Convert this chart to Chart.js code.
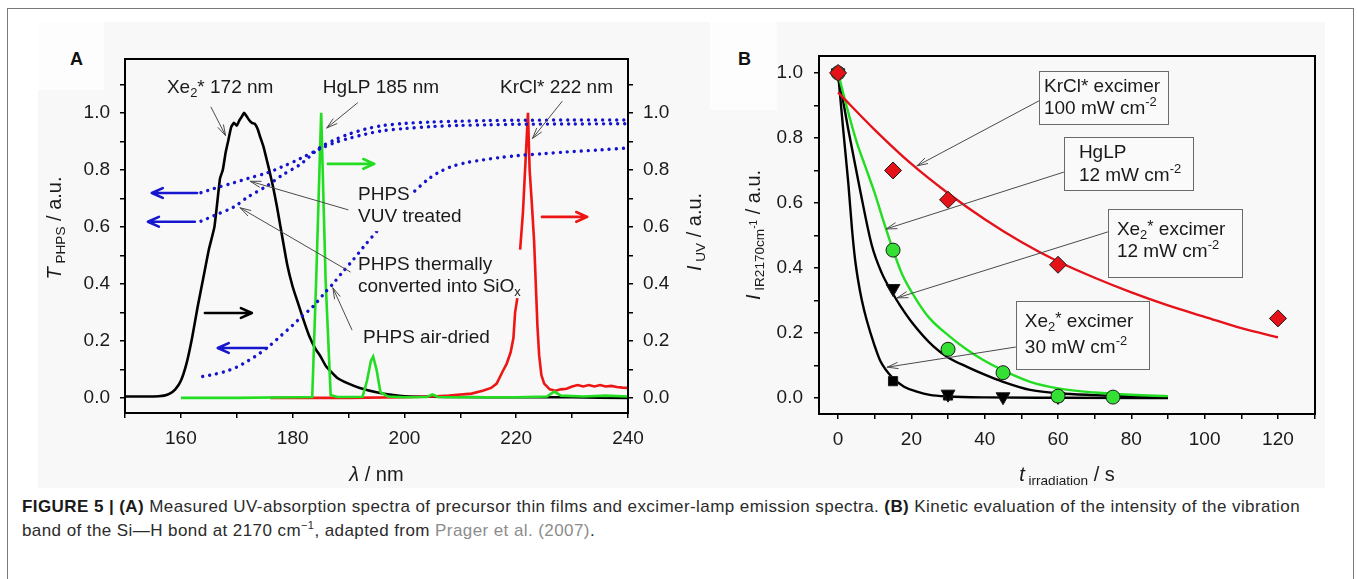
<!DOCTYPE html>
<html>
<head>
<meta charset="utf-8">
<script src="https://cdn.jsdelivr.net/npm/chart.js@4.4.1/dist/chart.umd.min.js"></script>
<style>
  html, body { margin: 0; padding: 0; background: #fff; }
  body { width: 1357px; height: 579px; position: relative; overflow: hidden; font-family: "Liberation Sans", Arial, sans-serif; }
  #frame { position: absolute; left: 7px; top: 8px; width: 1347px; height: 620px; border: 1.5px solid #7a7a7a; box-sizing: border-box; }
  #figure { position: absolute; left: 38px; top: 22px; width: 1287px; height: 466px; background: #f8f8f8; }
  .patch { position: absolute; background: #fdfdfd; }
  .panel { position: absolute; font-weight: bold; font-size: 18px; color: #111; line-height: 1; }
  canvas { position: absolute; }
  #caption { position: absolute; left: 22px; top: 495px; font-size: 17px; letter-spacing: 0.42px; line-height: 24px; color: #2b2b2b; white-space: nowrap; }
  #caption b { color: #1a1a1a; }
  #caption .ref { color: #8c8c8c; }
  #caption sup { font-size: 11px; line-height: 0; }
</style>
</head>
<body>
<div id="frame"></div>
<div id="figure"></div>
<div class="patch" style="left:38px;top:22px;width:66px;height:68px;"></div>
<div class="patch" style="left:710px;top:22px;width:67px;height:88px;"></div>
<div class="panel" style="left:70px;top:50px;">A</div>
<div class="panel" style="left:738px;top:50px;">B</div>
<canvas id="spectra" width="682" height="466" style="left:38px;top:22px;"></canvas>
<canvas id="kinetics" width="605" height="466" style="left:720px;top:22px;"></canvas>
<div id="caption"><b>FIGURE 5 | (A)</b> Measured UV-absorption spectra of precursor thin films and excimer-lamp emission spectra. <b>(B)</b> Kinetic evaluation of the intensity of the vibration<br>band of the Si—H bond at 2170 cm<sup>−1</sup>, adapted from <span class="ref">Prager et al. (2007)</span>.</div>

<script>
// Painel A: espectros (nm) e Painel B: cinética (s)

// ---- Painel A: emissão das lâmpadas ----
const xeWavelength = [150, 152, 154, 156, 157, 158, 159, 160, 161, 162, 163, 164, 165, 166, 167, 167.5, 168, 168.5, 169, 169.5, 170, 170.5, 171, 171.3, 171.7, 172.2, 172.7, 173.2, 173.7, 174.2, 174.8, 175.3, 175.8, 176.5, 177.2, 178, 179, 180, 181, 182, 183, 184, 185, 186, 188, 190, 192, 195, 198, 200, 205, 210, 220, 230, 240];
const xeIntensity = [0.005, 0.005, 0.005, 0.006, 0.008, 0.015, 0.03, 0.06, 0.12, 0.21, 0.32, 0.42, 0.52, 0.60, 0.77, 0.80, 0.86, 0.905, 0.95, 0.965, 0.955, 0.975, 0.99, 1.0, 0.99, 0.975, 0.965, 0.962, 0.945, 0.915, 0.88, 0.84, 0.80, 0.74, 0.67, 0.58, 0.47, 0.39, 0.33, 0.27, 0.215, 0.175, 0.145, 0.11, 0.07, 0.05, 0.035, 0.02, 0.01, 0.006, 0.004, 0.003, 0.002, 0.002, 0.0];

const hgWavelength = [160, 170, 180, 183.5, 184.2, 185.1, 185.9, 186.8, 188, 192.5, 193.3, 194, 194.4, 195, 195.7, 197, 200, 204, 205, 206, 210, 220, 225.5, 226.8, 228, 232, 236, 240];
const hgIntensity = [0, 0, 0.002, 0.003, 0.41, 1.0, 0.41, 0.01, 0.003, 0.004, 0.06, 0.13, 0.145, 0.10, 0.02, 0.005, 0.002, 0.003, 0.012, 0.003, 0.002, 0.002, 0.005, 0.022, 0.008, 0.005, 0.008, 0.005];

const krWavelength = [176, 190, 200, 205, 208, 210, 212, 214, 215.5, 216.5, 217.5, 218.3, 219, 219.5, 219.8, 220.2, 220.4, 220.7, 221.2, 222.1, 222.4, 222.8, 223.2, 223.5, 223.8, 224.1, 224.5, 225, 226, 227, 228, 229, 230, 231, 232, 233, 234, 235, 236, 237, 238, 239, 240];
const krIntensity = [0, 0, 0.002, 0.005, 0.008, 0.012, 0.015, 0.025, 0.035, 0.05, 0.09, 0.12, 0.16, 0.21, 0.30, 0.35, null, 0.52, 0.65, 1.0, 0.80, 0.68, 0.55, 0.40, 0.25, 0.15, 0.08, 0.05, 0.03, 0.025, 0.03, 0.032, 0.04, 0.045, 0.04, 0.045, 0.04, 0.045, 0.04, 0.042, 0.038, 0.036, 0.035];

// ---- Painel A: transmissão dos filmes PHPS ----
const filmWavelength = [163.6, 166, 169.5, 172, 175.5, 178, 181.4, 185, 187.5, 190, 193, 196, 200, 205, 210, 215, 220, 230, 240];
const vuvTransmission = [0.72, 0.735, 0.755, 0.77, 0.79, 0.81, 0.84, 0.875, 0.895, 0.91, 0.925, 0.937, 0.945, 0.952, 0.956, 0.958, 0.96, 0.961, 0.962];
const thermalTransmission = [0.62, 0.64, 0.67, 0.705, 0.745, 0.78, 0.82, 0.88, 0.905, 0.925, 0.943, 0.955, 0.963, 0.968, 0.971, 0.973, 0.974, 0.975, 0.975];
const airWavelength = [163.9, 166, 168, 170, 172, 174, 176, 178, 180, 181.6, 183.6, 185.8, 187.2, 189, 190.8, 192.7, 195.3, 198, 201, 204.1, 206, 208.2, 211, 214.1, 217, 220.2, 225, 229, 235, 240];
const airTransmission = [0.075, 0.083, 0.093, 0.108, 0.13, 0.155, 0.185, 0.22, 0.255, 0.285, 0.32, 0.37, 0.40, 0.443, 0.484, 0.53, 0.59, 0.65, 0.71, 0.765, 0.79, 0.81, 0.825, 0.835, 0.843, 0.85, 0.857, 0.863, 0.87, 0.877];

// ---- Painel B: pontos medidos ----
const krclTime = [0, 15, 30, 60, 120];
const krclSignal = [1.0, 0.70, 0.61, 0.41, 0.245];
const hglpTime = [0, 15, 30, 45, 60, 75];
const hglpSignal = [1.0, 0.455, 0.15, 0.078, 0.006, 0.003];
const xe12Time = [0, 15, 30, 45, 60];
const xe12Signal = [1.0, 0.337, 0.012, 0.004, 0.005];
const xe30Time = [0, 15, 30, 60];
const xe30Signal = [1.0, 0.052, 0.008, 0.003];

// ---- Painel B: curvas de ajuste ----
const krclFitTime = [0, 10, 20, 30, 40, 50, 60, 70, 80, 90, 100, 110, 120];
const krclFitSignal = [0.94, 0.825, 0.72, 0.63, 0.55, 0.48, 0.42, 0.37, 0.325, 0.285, 0.25, 0.215, 0.187];
const hglpFitTime = [0, 2.5, 5, 7.5, 10, 12.5, 15, 17.5, 21.5, 25, 30.5, 35, 39.6, 45, 52.4, 60, 70, 80, 90];
const hglpFitSignal = [1.0, 0.89, 0.79, 0.71, 0.63, 0.54, 0.455, 0.38, 0.30, 0.245, 0.189, 0.15, 0.117, 0.085, 0.05, 0.03, 0.017, 0.01, 0.006];
const xe12FitTime = [0, 2.8, 6, 9.2, 11.9, 15, 16.9, 20, 26.1, 30, 35.2, 40, 45, 52.4, 60, 70, 80, 90];
const xe12FitSignal = [1.0, 0.825, 0.64, 0.47, 0.385, 0.32, 0.285, 0.235, 0.158, 0.125, 0.096, 0.072, 0.05, 0.025, 0.015, 0.009, 0.005, 0.003];
const xe30FitTime = [0, 1.45, 2.8, 3.8, 4.6, 5.5, 6.5, 7.8, 10, 11.5, 14.9, 18, 21.5, 25, 30, 40, 60, 90];
const xe30FitSignal = [1.0, 0.82, 0.66, 0.52, 0.43, 0.36, 0.30, 0.24, 0.16, 0.115, 0.062, 0.035, 0.02, 0.01, 0.005, 0.002, 0.001, 0.0];

// rótulos dos eixos
const spectraTickStep = 10;
const kineticsTickStep = 10;

// ---- anotações (em coordenadas dos dados) ----
const spectraLabels = [
    { x: 157.5, y: 1.088, parts: [['Xe'], ['2', 'sub'], ['* 172 nm']] },
    { x: 185.4, y: 1.088, parts: [['HgLP 185 nm']] },
    { x: 217.1, y: 1.088, parts: [['KrCl* 222 nm']] },
    { x: 191.7, y: 0.712, parts: [['PHPS']], mask: true },
    { x: 191.7, y: 0.635, parts: [['VUV treated']], mask: true },
    { x: 191.7, y: 0.467, parts: [['PHPS thermally']] },
    { x: 191.7, y: 0.389, parts: [['converted into SiO'], ['x', 'sub']] },
    { x: 192.6, y: 0.21, parts: [['PHPS air-dried']] }
];
const spectraPointers = [
    [165.4, 1.02, 168.0, 0.92],
    [191.6, 1.035, 186.1, 0.947],
    [228.2, 1.04, 222.9, 0.91],
    [189.9, 0.66, 172.4, 0.76],
    [190.3, 0.442, 170.6, 0.667],
    [190.6, 0.239, 187.2, 0.386]
];
const spectraArrows = [
    { from: [162.9, 0.719], to: [154.8, 0.719], color: '#1616cf' },
    { from: [162.5, 0.618], to: [154.1, 0.618], color: '#1616cf' },
    { from: [175.4, 0.175], to: [166.6, 0.175], color: '#1616cf' },
    { from: [164.3, 0.298], to: [172.7, 0.298], color: '#000000' },
    { from: [186.3, 0.821], to: [194.6, 0.821], color: '#22dd22' },
    { from: [224.6, 0.635], to: [232.7, 0.635], color: '#ee1515' }
];
const kineticsBoxes = [
    { x1: 54.8, y1: 1.006, x2: 90.0, y2: 0.843, pad: 5, dy: [16, 38], lines: [[['KrCl* excimer']], [['100 mW cm'], ['-2', 'sup']]] },
    { x1: 61.6, y1: 0.803, x2: 96.8, y2: 0.64, pad: 15, dy: [16, 39], lines: [[['HgLP']], [['12 mW cm'], ['-2', 'sup']]] },
    { x1: 73.6, y1: 0.582, x2: 110.2, y2: 0.372, pad: 9, dy: [21, 43], lines: [[['Xe'], ['2', 'sub'], ['*', 'star'], [' excimer']], [['12 mW cm'], ['-2', 'sup']]] },
    { x1: 48.5, y1: 0.298, x2: 84.8, y2: 0.089, pad: 9, dy: [21, 47], lines: [[['Xe'], ['2', 'sub'], ['*', 'star'], [' excimer']], [['30 mW cm'], ['-2', 'sup']]] }
];
const kineticsPointers = [
    [54.8, 0.914, 21.5, 0.714],
    [61.6, 0.695, 13.1, 0.52],
    [73.6, 0.511, 16.1, 0.308],
    [48.5, 0.157, 13.4, 0.095]
];

const FONT_FAMILY = '"Liberation Sans", Arial, Helvetica, sans-serif';
const BG = '#f8f8f8';
Chart.defaults.font.family = FONT_FAMILY;
Chart.defaults.color = '#1a1a1a';

function pontos(xs, ys) {
    return xs.map((x, i) => ({ x: x, y: ys[i] }));
}

// texto com índices e expoentes
function textoRico(ctx, parts, x, y, size, align, angle, mask) {
    ctx.save();
    ctx.translate(x, y);
    if (angle) ctx.rotate(angle);
    ctx.textBaseline = 'middle';
    ctx.textAlign = 'left';
    const runs = parts.map(p => {
        const kind = p[1];
        let fs = size, dy = 0, style = '';
        if (kind === 'sub') { fs = size * 0.68; dy = size * 0.3; }
        else if (kind === 'sup') { fs = size * 0.68; dy = -size * 0.36; }
        else if (kind === 'star') { fs = size * 0.85; dy = -size * 0.12; }
        else if (kind === 'subsup') { fs = size * 0.5; dy = size * 0.02; }
        else if (kind === 'i') style = 'italic ';
        const font = style + fs + 'px ' + FONT_FAMILY;
        ctx.font = font;
        return { text: p[0], font: font, dy: dy, w: ctx.measureText(p[0]).width };
    });
    const total = runs.reduce((s, r) => s + r.w, 0);
    let cx = align === 'center' ? -total / 2 : 0;
    if (mask) {
        ctx.fillStyle = mask;
        ctx.fillRect(cx - 3, -size * 0.75, total + 6, size * 1.5);
    }
    ctx.fillStyle = '#1a1a1a';
    runs.forEach(r => {
        ctx.font = r.font;
        ctx.fillText(r.text, cx, r.dy);
        cx += r.w;
    });
    ctx.restore();
}

function seta(ctx, x1, y1, x2, y2, color, lw, head, spread) {
    const a = Math.atan2(y2 - y1, x2 - x1);
    ctx.save();
    ctx.strokeStyle = color;
    ctx.lineWidth = lw;
    ctx.lineCap = 'round';
    ctx.lineJoin = 'round';
    ctx.beginPath();
    ctx.moveTo(x1, y1);
    ctx.lineTo(x2, y2);
    ctx.moveTo(x2 - head * Math.cos(a - spread), y2 - head * Math.sin(a - spread));
    ctx.lineTo(x2, y2);
    ctx.lineTo(x2 - head * Math.cos(a + spread), y2 - head * Math.sin(a + spread));
    ctx.stroke();
    ctx.restore();
}

function rotuloDecimal(v) {
    const n = Math.round(v * 10);
    return (n >= 0 && n <= 10 && n % 2 === 0) ? (n / 10).toFixed(1) : '';
}

function eixo(extra) {
    return Object.assign({
        type: 'linear',
        grid: { drawOnChartArea: false, drawTicks: true, tickLength: 5, color: '#000', lineWidth: 1.5 },
        border: { display: true, color: '#000', width: 2 }
    }, extra);
}

function fonteTick() {
    return { size: 19, family: FONT_FAMILY };
}

// ---------------- Painel A ----------------
const pluginEspectros = {
    id: 'anotacoesEspectros',
    afterDatasetsDraw(chart) {
        const ctx = chart.ctx;
        const area = chart.chartArea;
        const sx = chart.scales.x, sy = chart.scales.y;
        ctx.save();
        ctx.strokeStyle = '#000';
        ctx.lineWidth = 2;
        ctx.strokeRect(area.left, area.top, area.right - area.left, area.bottom - area.top);
        spectraPointers.forEach(p => {
            seta(ctx, sx.getPixelForValue(p[0]), sy.getPixelForValue(p[1]),
                sx.getPixelForValue(p[2]), sy.getPixelForValue(p[3]), '#4a4a4a', 1, 11, 0.28);
        });
        spectraArrows.forEach(a => {
            seta(ctx, sx.getPixelForValue(a.from[0]), sy.getPixelForValue(a.from[1]),
                sx.getPixelForValue(a.to[0]), sy.getPixelForValue(a.to[1]), a.color, 2.6, 12, 0.42);
        });
        spectraLabels.forEach(l => {
            textoRico(ctx, l.parts, sx.getPixelForValue(l.x), sy.getPixelForValue(l.y), 19, 'left', 0, l.mask ? BG : null);
        });
        const meioY = (area.top + area.bottom) / 2;
        textoRico(ctx, [['T', 'i'], [' PHPS', 'sub'], [' / a.u.']], 17, meioY - 8, 20, 'center', -Math.PI / 2);
        textoRico(ctx, [['I', 'i'], [' UV', 'sub'], [' / a.u.']], 657, meioY - 4, 20, 'center', -Math.PI / 2);
        textoRico(ctx, [['λ', 'i'], [' / nm']], (area.left + area.right) / 2, area.bottom + 62, 20, 'center', 0);
        ctx.restore();
    }
};

new Chart(document.getElementById('spectra'), {
    type: 'line',
    data: {
        datasets: [
            { data: pontos(filmWavelength, vuvTransmission), yAxisID: 'y', borderColor: '#1414cc', borderWidth: 3.4, borderDash: [0.01, 7], borderCapStyle: 'round', pointRadius: 0, tension: 0.3 },
            { data: pontos(filmWavelength, thermalTransmission), yAxisID: 'y', borderColor: '#1414cc', borderWidth: 3.4, borderDash: [0.01, 7], borderCapStyle: 'round', pointRadius: 0, tension: 0.3 },
            { data: pontos(airWavelength, airTransmission), yAxisID: 'y', borderColor: '#1414cc', borderWidth: 3.4, borderDash: [0.01, 7], borderCapStyle: 'round', pointRadius: 0, tension: 0.3 },
            { data: pontos(hgWavelength, hgIntensity), yAxisID: 'y2', borderColor: '#22dd22', borderWidth: 2.6, pointRadius: 0, tension: 0 },
            { data: pontos(krWavelength, krIntensity), yAxisID: 'y2', borderColor: '#ee1515', borderWidth: 2.6, pointRadius: 0, tension: 0, spanGaps: false },
            { data: pontos(xeWavelength, xeIntensity), yAxisID: 'y2', borderColor: '#000000', borderWidth: 2.6, pointRadius: 0, tension: 0.15 }
        ]
    },
    options: {
        responsive: false,
        animation: false,
        layout: { padding: { top: 37, left: 0, right: 0, bottom: 0 } },
        plugins: { legend: { display: false }, tooltip: { enabled: false } },
        scales: {
            x: eixo({
                min: 150, max: 240, position: 'bottom',
                afterFit(s) { s.height = 75; },
                ticks: {
                    stepSize: spectraTickStep, includeBounds: false, autoSkip: false, maxRotation: 0, padding: 9,
                    font: fonteTick(), color: '#1a1a1a',
                    callback: v => (v >= 160 && (v - 160) % 20 === 0) ? String(v) : ''
                }
            }),
            y: eixo({
                min: -0.053, max: 1.189, position: 'left',
                afterFit(s) { s.width = 87; },
                ticks: { stepSize: 0.1, includeBounds: false, autoSkip: false, padding: 10, font: fonteTick(), color: '#1a1a1a', callback: rotuloDecimal }
            }),
            y2: eixo({
                min: -0.053, max: 1.189, position: 'right',
                afterFit(s) { s.width = 92; },
                ticks: { stepSize: 0.1, includeBounds: false, autoSkip: false, padding: 10, font: fonteTick(), color: '#1a1a1a', callback: rotuloDecimal }
            })
        }
    },
    plugins: [pluginEspectros]
});

// ---------------- Painel B ----------------
const pluginCinetica = {
    id: 'anotacoesCinetica',
    afterDatasetsDraw(chart) {
        const ctx = chart.ctx;
        const area = chart.chartArea;
        const sx = chart.scales.x, sy = chart.scales.y;
        ctx.save();
        ctx.strokeStyle = '#000';
        ctx.lineWidth = 2;
        ctx.strokeRect(area.left, area.top, area.right - area.left, area.bottom - area.top);
        kineticsPointers.forEach(p => {
            seta(ctx, sx.getPixelForValue(p[0]), sy.getPixelForValue(p[1]),
                sx.getPixelForValue(p[2]), sy.getPixelForValue(p[3]), '#4a4a4a', 1, 11, 0.28);
        });
        kineticsBoxes.forEach(b => {
            const x1 = sx.getPixelForValue(b.x1), y1 = sy.getPixelForValue(b.y1);
            const x2 = sx.getPixelForValue(b.x2), y2 = sy.getPixelForValue(b.y2);
            ctx.fillStyle = '#fafafa';
            ctx.fillRect(x1, y1, x2 - x1, y2 - y1);
            ctx.strokeStyle = '#6a6a6a';
            ctx.lineWidth = 1;
            ctx.strokeRect(Math.round(x1) + 0.5, Math.round(y1) + 0.5, Math.round(x2 - x1), Math.round(y2 - y1));
            b.lines.forEach((linha, i) => {
                textoRico(ctx, linha, x1 + b.pad, y1 + b.dy[i], 19, 'left', 0);
            });
        });
        const meioY = (area.top + area.bottom) / 2;
        textoRico(ctx, [['I', 'i'], [' IR2170cm', 'sub'], ['-1', 'subsup'], [' / a.u.']], 34, meioY, 20, 'center', -Math.PI / 2);
        textoRico(ctx, [['t', 'i'], [' irradiation', 'sub'], [' / s']], (area.left + area.right) / 2, area.bottom + 61, 20, 'center', 0);
        ctx.restore();
    }
};

function pontosMarcados(xs, ys, estilo, cor, raio, rot) {
    return {
        data: pontos(xs, ys), showLine: false, pointStyle: estilo, pointRadius: raio,
        pointRotation: rot || 0, pointBackgroundColor: cor, pointBorderColor: '#1a1a1a', pointBorderWidth: 1
    };
}

function curvaAjuste(xs, ys, cor) {
    return {
        data: pontos(xs, ys), showLine: true, borderColor: cor, borderWidth: 2.4, pointRadius: 0,
        cubicInterpolationMode: 'monotone', fill: false
    };
}

new Chart(document.getElementById('kinetics'), {
    type: 'scatter',
    data: {
        datasets: [
            pontosMarcados(krclTime, krclSignal, 'rectRot', '#e5121a', 8.5),
            pontosMarcados(hglpTime, hglpSignal, 'circle', '#33e033', 7),
            pontosMarcados(xe12Time, xe12Signal, 'triangle', '#000000', 8, 180),
            pontosMarcados(xe30Time, xe30Signal, 'rect', '#000000', 6.5),
            curvaAjuste(krclFitTime, krclFitSignal, '#e5121a'),
            curvaAjuste(hglpFitTime, hglpFitSignal, '#22dd22'),
            curvaAjuste(xe12FitTime, xe12FitSignal, '#000000'),
            curvaAjuste(xe30FitTime, xe30FitSignal, '#000000')
        ]
    },
    options: {
        responsive: false,
        animation: false,
        layout: { padding: { top: 34, left: 0, right: 0, bottom: 0 } },
        plugins: { legend: { display: false }, tooltip: { enabled: false } },
        scales: {
            x: eixo({
                min: -5.2, max: 130.1, position: 'bottom',
                afterFit(s) { s.height = 74; },
                ticks: {
                    stepSize: kineticsTickStep, includeBounds: false, autoSkip: false, maxRotation: 0, padding: 9,
                    font: fonteTick(), color: '#1a1a1a',
                    callback: v => (v >= 0 && v <= 120 && v % 20 === 0) ? String(v) : ''
                }
            }),
            y: eixo({
                min: -0.049, max: 1.052, position: 'left',
                afterFit(s) { s.width = 99; },
                ticks: { stepSize: 0.1, includeBounds: false, autoSkip: false, padding: 11, font: fonteTick(), color: '#1a1a1a', callback: rotuloDecimal }
            }),
            yR: eixo({
                min: -0.049, max: 1.052, position: 'right',
                afterFit(s) { s.width = 10; },
                grid: { display: false },
                ticks: { display: false }
            })
        }
    },
    plugins: [pluginCinetica]
});
</script>
</body>
</html>
